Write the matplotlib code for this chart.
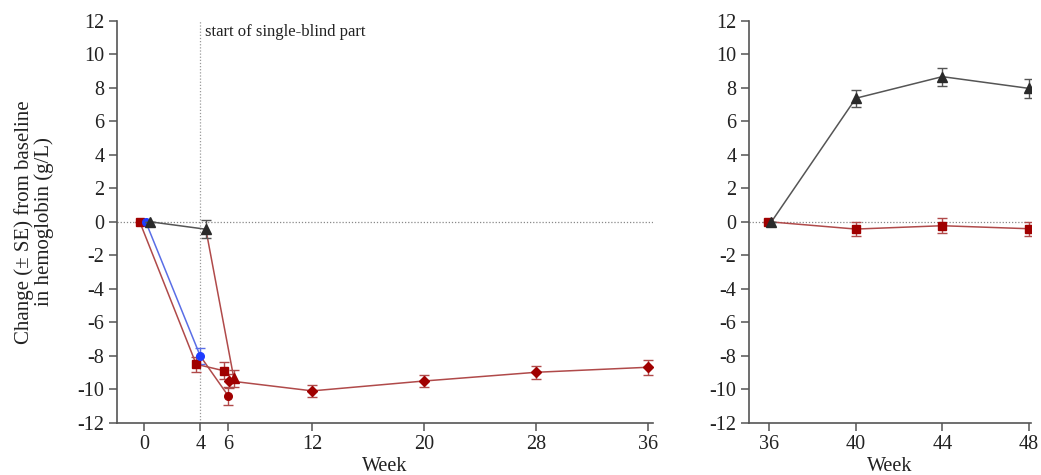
import matplotlib
matplotlib.use("Agg")
import matplotlib.pyplot as plt

plt.rcParams['font.family'] = ['Liberation Serif', 'DejaVu Serif']
plt.rcParams['axes.unicode_minus'] = False

# ---------------- data (left panel, weeks 0-36) ----------------
sq_weeks = [-0.33, 3.71, 5.69]
sq_vals = [0.0, -8.51, -8.90]
sq_se = [0.0, 0.45, 0.50]

blue_weeks = [0.10, 4.00]
blue_vals = [0.0, -8.02]
blue_se = [0.0, 0.50]

circ_weeks = [4.00, 6.00]
circ_vals = [-8.02, -10.40]
circ_se = [0.50, 0.55]

tri_weeks = [0.38, 4.40]
tri_vals = [0.0, -0.45]
tri_se = [0.0, 0.55]

tri2_weeks = [4.40, 6.40]
tri2_vals = [-0.45, -9.35]
tri2_se = [0.55, 0.50]

dia_weeks = [6.05, 12, 20, 28, 36]
dia_vals = [-9.50, -10.10, -9.51, -8.99, -8.69]
dia_se = [0.40, 0.35, 0.36, 0.40, 0.45]

# ---------------- data (right panel, weeks 36-48) ----------------
r_tri_weeks = [36.10, 40, 44, 48]
r_tri_vals = [0.0, 7.37, 8.66, 7.96]
r_tri_se = [0.0, 0.50, 0.53, 0.55]

r_sq_weeks = [35.95, 40, 44, 48]
r_sq_vals = [0.0, -0.44, -0.24, -0.42]
r_sq_se = [0.0, 0.40, 0.44, 0.42]

left_xticks = [0, 4, 6, 12, 20, 28, 36]
right_xticks = [36, 40, 44, 48]
yticks = list(range(-12, 13, 2))

RED_M = '#a00000'
RED_L = '#b04a4a'
BLUE_M = '#1f3cff'
BLUE_L = '#5a6ee6'
BLK_M = '#2a2a2a'
BLK_L = '#555555'
AX_C = '#555555'

fig = plt.figure(figsize=(10.41, 4.75), dpi=100)
axL = fig.add_axes([117/1041, 1-422.7/475, (653-117)/1041, (422.7-20.7)/475])
axR = fig.add_axes([749/1041, 1-422.7/475, (1031-749)/1041, (422.7-20.7)/475])


def series(ax, x, y, se, mcol, lcol, marker, ms, markfirst=True, zorder=3):
    ax.plot(x, y, color=lcol, lw=1.1, zorder=zorder)
    xs = x if markfirst else x[1:]
    ys = y if markfirst else y[1:]
    es = se if markfirst else se[1:]
    ax.errorbar(xs, ys, yerr=es, fmt=marker, color=mcol, ms=ms,
                ecolor=lcol, elinewidth=1.0, capsize=3.5, capthick=1.0,
                zorder=zorder + 1)


for ax in (axL, axR):
    ax.axhline(0, color='#888888', lw=0.9, ls=(0, (1, 1.5)), zorder=1)

axL.axvline(4, color='#999999', lw=0.9, ls=(0, (1, 1.5)), zorder=1)

# left panel series
series(axL, sq_weeks, sq_vals, sq_se, RED_M, RED_L, 's', 6)
series(axL, blue_weeks, blue_vals, blue_se, BLUE_M, BLUE_L, 'o', 5.5)
series(axL, circ_weeks, circ_vals, circ_se, RED_M, RED_L, 'o', 5.5, markfirst=False)
series(axL, tri_weeks, tri_vals, tri_se, BLK_M, BLK_L, '^', 6.5, zorder=5)
series(axL, tri2_weeks, tri2_vals, tri2_se, RED_M, RED_L, '^', 6.5, markfirst=False)
series(axL, dia_weeks, dia_vals, dia_se, RED_M, RED_L, 'D', 5)

# right panel series
series(axR, r_sq_weeks, r_sq_vals, r_sq_se, RED_M, RED_L, 's', 6)
series(axR, r_tri_weeks, r_tri_vals, r_tri_se, BLK_M, BLK_L, '^', 6.5)

axL.set_xlim(-1.95, 36.35)
axR.set_xlim(35.06, 48.1)
axL.set_xticks(left_xticks)
axR.set_xticks(right_xticks)

for ax in (axL, axR):
    ax.set_ylim(-12, 12)
    ax.set_yticks(yticks)
    ax.spines['top'].set_visible(False)
    ax.spines['right'].set_visible(False)
    for s in ('left', 'bottom'):
        ax.spines[s].set_color(AX_C)
        ax.spines[s].set_linewidth(1.2)
    ax.tick_params(axis='both', direction='out', length=6, width=1.1,
                   color=AX_C, labelsize=14.5, labelcolor='#222222', pad=3)
    ax.set_xlabel('Week', fontsize=14.5, color='#222222', labelpad=2)

axL.set_ylabel('Change (± SE) from baseline\nin hemoglobin (g/L)', fontsize=15,
               color='#222222', labelpad=17, linespacing=1.0)

axL.text(4.35, 11.3, 'start of single-blind part', fontsize=12, color='#222222',
         va='center', ha='left')

fig.savefig('out.png', dpi=100, facecolor='white')
